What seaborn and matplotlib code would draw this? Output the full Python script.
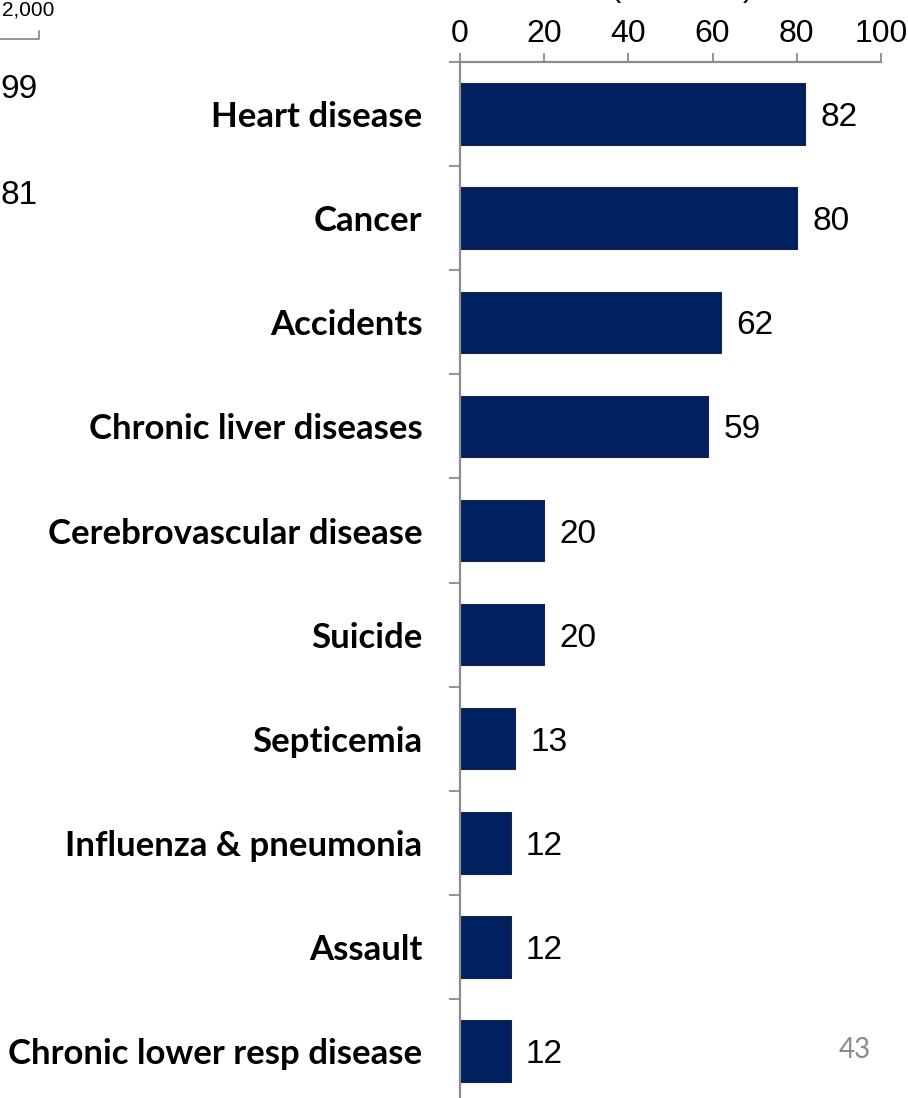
import matplotlib
matplotlib.use("Agg")
import matplotlib.pyplot as plt
import seaborn as sns

causes = ["Heart disease", "Cancer", "Accidents", "Chronic liver diseases",
          "Cerebrovascular disease", "Suicide", "Septicemia",
          "Influenza & pneumonia", "Assault", "Chronic lower resp disease"]
rates = [82, 80, 62, 59, 20, 20, 13, 12, 12, 12]
x_ticks = [0, 20, 40, 60, 80, 100]

# leftovers from the neighbouring chart on the slide
left_labels = ["2,000", "99", "81"]

sns.set_style("white")
plt.rcParams["font.family"] = ["Liberation Sans", "DejaVu Sans"]
plt.rcParams["text.color"] = "black"

W, H = 908, 1098
fig = plt.figure(figsize=(W / 100, H / 100), dpi=100)
ax = fig.add_axes([460 / W, 0, 421 / W, (H - 62) / H])

sns.barplot(x=rates, y=causes, orient="h", color="#002060", width=0.59,
            edgecolor="#1c2440", linewidth=0.8, saturation=1, ax=ax)

ax.set_xlim(0, 100)
ax.set_ylim(9.45, -0.5)
ax.set_xlabel("")
ax.set_ylabel("")

grey = "#8c8c8c"
for side in ["right", "bottom"]:
    ax.spines[side].set_visible(False)
for side in ["left", "top"]:
    ax.spines[side].set_color(grey)
    ax.spines[side].set_linewidth(1.6)

ax.xaxis.tick_top()
ax.set_xticks(x_ticks)
ax.set_xticklabels([str(t) for t in x_ticks],
                   family=["Liberation Sans Narrow", "DejaVu Sans Condensed", "Liberation Sans"])
ax.tick_params(axis="x", which="major", direction="out", length=6.5, width=1.3,
               color=grey, labelsize=23, labelcolor="black", pad=3,
               top=True, bottom=False)

ax.set_yticks(range(len(causes)))
ax.set_yticklabels(causes, family=["Lato", "DejaVu Sans"], fontweight="bold")
ax.set_yticks([i + 0.5 for i in range(-1, len(causes) - 1)], minor=True)
ax.tick_params(axis="y", which="major", length=0, labelsize=25,
               labelcolor="black", pad=27)
ax.tick_params(axis="y", which="minor", direction="out", length=8, width=1.3,
               color=grey, left=True)

labels = ax.bar_label(ax.containers[0], fmt="%d", padding=11, fontsize=24, color="black")
for t in labels:
    t.set_va("center_baseline")

# cut-off pieces around the chart
fig.text(2 / W, 1 - 10 / H, left_labels[0], fontsize=15, va="center", ha="left")
fig.add_artist(plt.Line2D([0, 39 / W, 39 / W], [1 - 39 / H, 1 - 39 / H, 1 - 31 / H],
                          color=grey, lw=1.3))
fig.text(0, 1 - 90 / H, left_labels[1], fontsize=24, va="center", ha="left")
fig.text(0, 1 - 195 / H, left_labels[2], fontsize=24, va="center", ha="left")
fig.text(615 / W, 1 + 12 / H, "(", fontsize=22, va="center", ha="center")
fig.text(748 / W, 1 + 12 / H, ")", fontsize=22, va="center", ha="center")
fig.text(855 / W, 1 - 1050 / H, "43", fontsize=20, color="#8a8a8a",
         family=["Lato", "DejaVu Sans"], va="center", ha="center")

fig.savefig("out.png", dpi=100)
